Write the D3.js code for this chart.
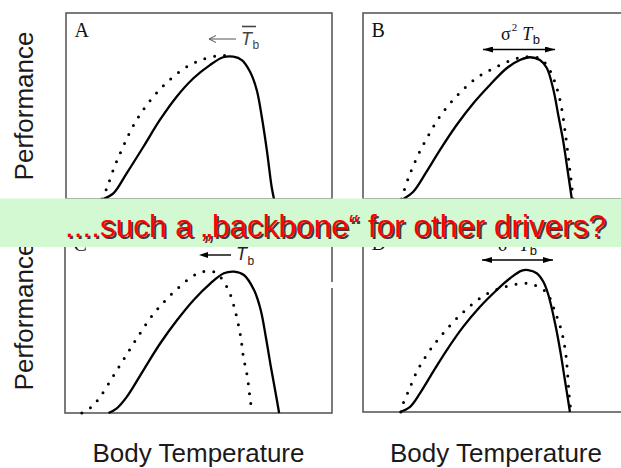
<!DOCTYPE html>
<html>
<head>
<meta charset="utf-8">
<script src="https://cdn.jsdelivr.net/npm/d3@7"></script>
<style>
  html, body { margin: 0; padding: 0; background: #fff; }
  svg { display: block; }
</style>
</head>
<body>
<svg id="chart" width="621" height="468"></svg>
<script>
// Thermal performance curves: performance vs body temperature.
// Solid = reference curve, dotted = curve under a shifted body-temperature regime.
// Points are [temperature (0-100 across the panel), performance (0-1)].

const panelLabels = ["A", "B", "C", "D"];
const yTitle = "Performance";
const xTitle = "Body Temperature";
const bannerText = "....such a \u201Ebackbone\u201C for other drivers?";

const solidA = [[14.0,0],[17.8,0.03],[22.8,0.138],[29.1,0.281],[35.3,0.425],[41.6,0.55],[47.9,0.649],[54.1,0.72],[59.1,0.762],[62.9,0.765],[66.1,0.747],[69.2,0.684],[71.7,0.586],[73.6,0.442],[75.5,0.263],[77.3,0.066],[78.2,0]];
const dottedA = [[13.5,0],[15.3,0.057],[18.0,0.165],[21.3,0.276],[25.1,0.389],[29.7,0.493],[36.0,0.6],[43.9,0.697],[51.4,0.751],[58.9,0.772],[62.0,0.768]];

const solidB = [[15.2,0],[18.9,0.039],[23.9,0.147],[28.9,0.263],[35.2,0.398],[41.5,0.515],[47.7,0.613],[54.0,0.703],[59.0,0.747],[62.8,0.762],[66.5,0.747],[69.1,0.704],[71.6,0.586],[73.4,0.452],[75.2,0.317],[76.9,0.156],[78.5,0]];
const dottedB = [[14.5,0],[17.0,0.111],[20.4,0.227],[24.2,0.332],[28.7,0.439],[34.8,0.547],[42.5,0.649],[50.3,0.711],[57.8,0.756],[62.1,0.765],[66.5,0.756],[69.1,0.72],[71.3,0.661],[72.6,0.608],[73.7,0.554],[74.8,0.478],[75.9,0.371],[77.1,0.237],[78.2,0.102],[79.0,0]];

const solidC = [[16.3,0],[19.4,0.025],[23.2,0.088],[29.4,0.231],[35.7,0.375],[42.0,0.5],[48.2,0.608],[54.5,0.697],[59.5,0.751],[63.3,0.76],[67.0,0.742],[70.8,0.661],[73.3,0.554],[75.2,0.41],[77.1,0.249],[78.9,0.106],[80.2,0]];
const dottedC = [[6.3,0],[10.0,0.034],[13.2,0.088],[17.9,0.195],[22.6,0.303],[27.3,0.41],[32.6,0.522],[39.2,0.629],[47.0,0.727],[50.8,0.756],[54.5,0.763],[57.0,0.75],[60.2,0.688],[62.0,0.634],[64.2,0.522],[65.8,0.41],[66.8,0.303],[68.3,0.195],[69.3,0.079],[70.1,0]];

const solidD = [[13.9,0],[17.7,0.028],[21.4,0.1],[26.4,0.217],[31.5,0.333],[37.7,0.459],[44.0,0.566],[50.3,0.656],[55.3,0.719],[59.7,0.76],[62.1,0.763],[65.3,0.746],[67.8,0.70],[69.7,0.629],[72.2,0.477],[74.1,0.333],[75.9,0.172],[77.8,0]];
const dottedD = [[14.2,0],[15.2,0.05],[17.0,0.109],[20.4,0.222],[25.2,0.333],[31.2,0.441],[38.3,0.545],[45.9,0.629],[53.6,0.674],[61.5,0.692],[65.3,0.677],[69.1,0.641],[72.2,0.539],[74.7,0.432],[76.2,0.316],[76.9,0.208],[77.5,0.091],[78.2,0]];

// panel frames (pixels)
const PANEL_H = 186;
const panels = [
  { label: panelLabels[0], left: 66,  top: 13,  width: 266, solid: solidA, dotted: dottedA },
  { label: panelLabels[1], left: 363, top: 13,  width: 266, solid: solidB, dotted: dottedB },
  { label: panelLabels[2], left: 65,  top: 227, width: 267, solid: solidC, dotted: dottedC },
  { label: panelLabels[3], left: 363, top: 226, width: 266, solid: solidD, dotted: dottedD }
];

const svg = d3.select("#chart");
const defs = svg.append("defs");

// filled arrowhead used by the spread arrows
defs.append("marker")
  .attr("id", "head")
  .attr("viewBox", "0 0 10 6")
  .attr("refX", 10).attr("refY", 3)
  .attr("markerWidth", 10).attr("markerHeight", 6)
  .attr("markerUnits", "userSpaceOnUse")
  .attr("orient", "auto-start-reverse")
  .append("path").attr("d", "M0,0 L10,3 L0,6 Z").attr("fill", "#000");

const SANS = "'Liberation Sans', Arial, sans-serif";
const SERIF = "'Liberation Serif', 'Times New Roman', serif";

panels.forEach(p => {
  const x = d3.scaleLinear().domain([0, 100]).range([p.left, p.left + p.width]);
  const y = d3.scaleLinear().domain([0, 1]).range([p.top + PANEL_H, p.top]);
  const g = svg.append("g").attr("class", "panel-" + p.label);

  g.append("rect")
    .attr("x", p.left).attr("y", p.top)
    .attr("width", p.width).attr("height", PANEL_H)
    .attr("fill", "none").attr("stroke", "#5a5a5a").attr("stroke-width", 1.6);

  const line = d3.line()
    .x(d => x(d[0])).y(d => y(d[1]))
    .curve(d3.curveCatmullRom.alpha(0.5));

  g.append("path").datum(p.dotted)
    .attr("d", line)
    .attr("fill", "none").attr("stroke", "#000")
    .attr("stroke-width", 3).attr("stroke-linecap", "round")
    .attr("stroke-dasharray", "0 10");

  g.append("path").datum(p.solid)
    .attr("d", line)
    .attr("fill", "none").attr("stroke", "#000")
    .attr("stroke-width", 2.3);

  g.append("text")
    .attr("x", p.left + 8.5).attr("y", p.top + 24)
    .attr("font-family", SERIF).attr("font-size", 20)
    .attr("fill", "#111")
    .text(p.label);
});

// --- annotations ---
// A: mean body temperature shifted left
(function () {
  const g = svg.append("g");
  g.append("line").attr("x1", 236).attr("y1", 39).attr("x2", 209).attr("y2", 39)
    .attr("stroke", "#555").attr("stroke-width", 1);
  g.append("path").attr("d", "M216,35.5 L209,39 L216,42.5")
    .attr("fill", "none").attr("stroke", "#555").attr("stroke-width", 1);
  g.append("line").attr("x1", 242).attr("x2", 256).attr("y1", 26.5).attr("y2", 26.5)
    .attr("stroke", "#444").attr("stroke-width", 1.6);
  const t = g.append("text").attr("x", 241).attr("y", 45)
    .attr("font-family", SANS).attr("font-size", 18).attr("fill", "#444");
  t.append("tspan").attr("font-style", "italic").text("T");
  t.append("tspan").attr("font-size", 12).attr("dx", 0.5).attr("dy", 3.5).text("b");
})();

// B and D: spread of body temperature
function spreadLabel(cx, yArrow, x1, x2, yText) {
  const g = svg.append("g");
  g.append("line").attr("x1", x1 + 1).attr("x2", x2 - 1)
    .attr("y1", yArrow).attr("y2", yArrow)
    .attr("stroke", "#000").attr("stroke-width", 1.6)
    .attr("marker-start", "url(#head)").attr("marker-end", "url(#head)");
  const t = g.append("text").attr("x", cx).attr("y", yText)
    .attr("font-family", SERIF).attr("font-size", 18).attr("fill", "#111");
  t.append("tspan").text("\u03C3");
  t.append("tspan").attr("font-size", 11).attr("dy", -9).attr("dx", 1).text("2");
  t.append("tspan").attr("dy", 9).attr("dx", 5).attr("font-style", "italic").text("T");
  t.append("tspan").attr("font-family", SANS).attr("font-size", 13).attr("dy", 4).attr("dx", 0.5).text("b");
}
spreadLabel(501, 49.5, 482, 556, 39.5);

// C: mean shifted left (overline sits under the banner)
(function () {
  const g = svg.append("g");
  g.append("line").attr("x1", 231).attr("y1", 255).attr("x2", 205).attr("y2", 255)
    .attr("stroke", "#000").attr("stroke-width", 1.4);
  g.append("path").attr("d", "M208,252 L199,255 L208,258 Z").attr("fill", "#000");
  g.append("line").attr("x1", 237).attr("x2", 251).attr("y1", 241).attr("y2", 241)
    .attr("stroke", "#222").attr("stroke-width", 1.6);
  const t = g.append("text").attr("x", 236).attr("y", 260)
    .attr("font-family", SANS).attr("font-size", 18).attr("fill", "#222");
  t.append("tspan").attr("font-style", "italic").text("T");
  t.append("tspan").attr("font-size", 12).attr("dx", 0.5).attr("dy", 5).text("b");
})();

spreadLabel(498, 260, 481, 554, 251);

// small break in the right frame of panel C
svg.append("rect").attr("x", 329.5).attr("y", 282).attr("width", 4.5).attr("height", 6).attr("fill", "#fff");

// --- axis titles ---
[106, 316].forEach(cy => {
  svg.append("text")
    .attr("transform", `translate(33,${cy}) rotate(-90)`)
    .attr("text-anchor", "middle")
    .attr("font-family", SANS).attr("font-size", 26).attr("fill", "#1a1a1a")
    .text(yTitle);
});
[198.5, 496].forEach(cx => {
  svg.append("text")
    .attr("x", cx).attr("y", 462)
    .attr("text-anchor", "middle")
    .attr("font-family", SANS).attr("font-size", 26).attr("fill", "#1a1a1a")
    .text(xTitle);
});

// --- banner across the middle ---
svg.append("rect").attr("x", 0).attr("y", 198.5).attr("width", 621).attr("height", 48.5)
  .attr("fill", "#d3f9d3");
svg.append("text")
  .attr("x", 67).attr("y", 238.5)
  .attr("font-family", SANS).attr("font-size", 31.5).attr("fill", "#3c3c3c")
  .text(bannerText);
svg.append("text")
  .attr("x", 65).attr("y", 236.5)
  .attr("font-family", SANS).attr("font-size", 31.5).attr("fill", "#ff0000")
  .text(bannerText);
</script>
</body>
</html>
